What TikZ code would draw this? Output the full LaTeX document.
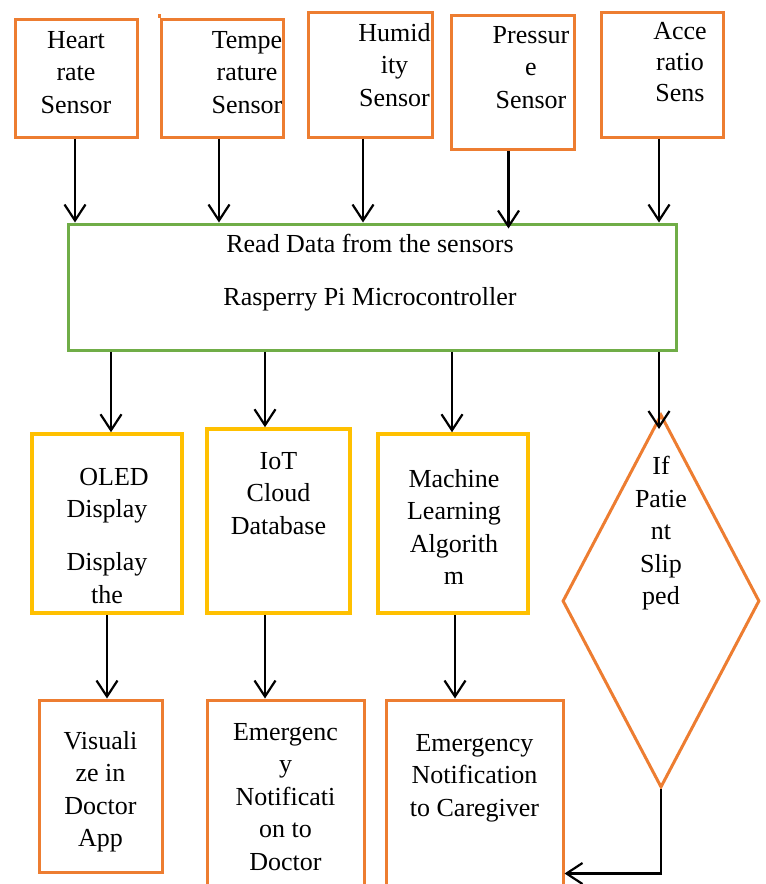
\documentclass[tikz,border=0pt]{standalone}
\usepackage{fontspec}
\setmainfont{Liberation Serif}
\usetikzlibrary{arrows.meta,shapes.geometric}

\definecolor{boxorange}{HTML}{ED7D31}
\definecolor{boxyellow}{HTML}{FFC000}
\definecolor{boxgreen}{HTML}{70AD47}

\tikzset{
  box/.style={draw, line width=3pt, inner sep=0pt},
  sensorbox/.style={box, draw=boxorange},
  procbox/.style={box, draw=boxyellow, line width=3.5pt},
  mcubox/.style={box, draw=boxgreen},
  lbl/.style={font=\fontsize{26}{32.5}\selectfont, align=center, inner sep=0pt,
    anchor=north, execute at begin node=\strut},
  arr/.style={-{Straight Barb[length=16pt,width=21pt]}, line width=2.2pt},
}

\begin{document}
\begin{tikzpicture}[x=1pt,y=-1pt]
\useasboundingbox (0,0) rectangle (766,884);
\clip (0,0) rectangle (766,884);

% sensors
\node[sensorbox, minimum width=122pt, minimum height=118pt] (heart) at (76,78) {};
\node[sensorbox, minimum width=122pt, minimum height=118pt] (temp) at (222,78) {};
\node[sensorbox, minimum width=124pt, minimum height=125pt] (humid) at (370,74.5) {};
\node[sensorbox, minimum width=123pt, minimum height=134pt] (press) at (512.5,82) {};
\node[sensorbox, minimum width=122pt, minimum height=125pt] (accel) at (662,74.5) {};
\draw[boxorange, line width=3pt] (temp.north west) -- ++(0,-4);

\node[lbl] (heartTxt) at (76,31) {Heart\\rate\\Sensor};
\begin{scope}
  \clip (temp.north west) rectangle (temp.south east);
  \node[lbl] (tempTxt) at (247,31) {Tempe\\rature\\Sensor};
\end{scope}
\begin{scope}
  \clip (humid.north west) rectangle (humid.south east);
  \node[lbl] (humidTxt) at (394.5,23) {Humid\\ity\\Sensor};
\end{scope}
\node[lbl] (pressTxt) at (531,26) {Pressur\\e\\Sensor};
\begin{scope}
  \clip (accel.north west) rectangle ([xshift=-19pt]accel.south east);
  \node[lbl, font=\fontsize{26}{31}\selectfont] (accelTxt) at (680,22) {Acce\\ratio\\Sens};
\end{scope}

% microcontroller
\node[mcubox, minimum width=608pt, minimum height=126pt] (rpi) at (372,287) {};
\node[lbl] (rpiTxt) at (370,234) {Read Data from the sensors\\[20.5pt]Rasperry Pi Microcontroller};

\foreach \s/\dx/\dy in {heart/-1/0, temp/-3/0, humid/-7/0, press/-4/6, accel/-3/0}
  \draw[arr] ([xshift=\dx pt]\s.south) -- ([xshift=\dx pt, yshift=-\dy pt]\s.south |- rpi.north);

% processing
\node[procbox, minimum width=150pt, minimum height=179pt] (oled) at (107,523.5) {};
\node[procbox, minimum width=143pt, minimum height=184pt] (iot) at (278.5,521) {};
\node[procbox, minimum width=150pt, minimum height=179pt] (ml) at (453,523.5) {};
\node[box, draw=boxorange, shape=diamond, minimum width=197pt, minimum height=373pt] (slip) at (661,601) {};

\node[lbl] (oledTxt) at (107,468) {\hspace*{14pt}OLED\\Display\\[20.5pt]Display\\the};
\node[lbl] (iotTxt) at (278.5,452) {IoT\\Cloud\\Database};
\node[lbl] (mlTxt) at (454,469) {Machine\\Learning\\Algorith\\m};
\node[lbl] (slipTxt) at (661,456) {If\\Patie\\nt\\Slip\\ped};

\draw[arr] ([xshift=4pt]oled.north |- rpi.south) -- ([xshift=4pt]oled.north);
\draw[arr] ([xshift=-13.5pt]iot.north |- rpi.south) -- ([xshift=-13.5pt]iot.north);
\draw[arr] ([xshift=-1pt]ml.north |- rpi.south) -- ([xshift=-1pt]ml.north);
\draw[arr] ([xshift=-2pt]slip.north |- rpi.south) -- ([xshift=-2pt, yshift=-16pt]slip.north);

% outputs
\node[sensorbox, minimum width=123pt, minimum height=172pt] (visual) at (100.5,786) {};
\node[sensorbox, minimum width=157pt, minimum height=200pt] (emdoc) at (285.5,800) {};
\node[sensorbox, minimum width=177pt, minimum height=200pt] (care) at (474.5,800) {};

\node[lbl] (visualTxt) at (100.5,731) {Visuali\\ze in\\Doctor\\App};
\node[lbl] (emdocTxt) at (285.5,723) {Emergenc\\y\\Notificati\\on to\\Doctor};
\node[lbl] (careTxt) at (474.5,734) {Emergency\\Notification\\to Caregiver};

\draw[arr] (oled.south) -- (oled.south |- visual.north);
\draw[arr] ([xshift=-13.5pt]iot.south) -- ([xshift=-13.5pt]iot.south |- emdoc.north);
\draw[arr] ([xshift=2pt]ml.south) -- ([xshift=2pt]ml.south |- care.north);
\draw[arr] (slip.south) -- (slip.south |- visual.south) -- (care.east |- visual.south);
\end{tikzpicture}
\end{document}
